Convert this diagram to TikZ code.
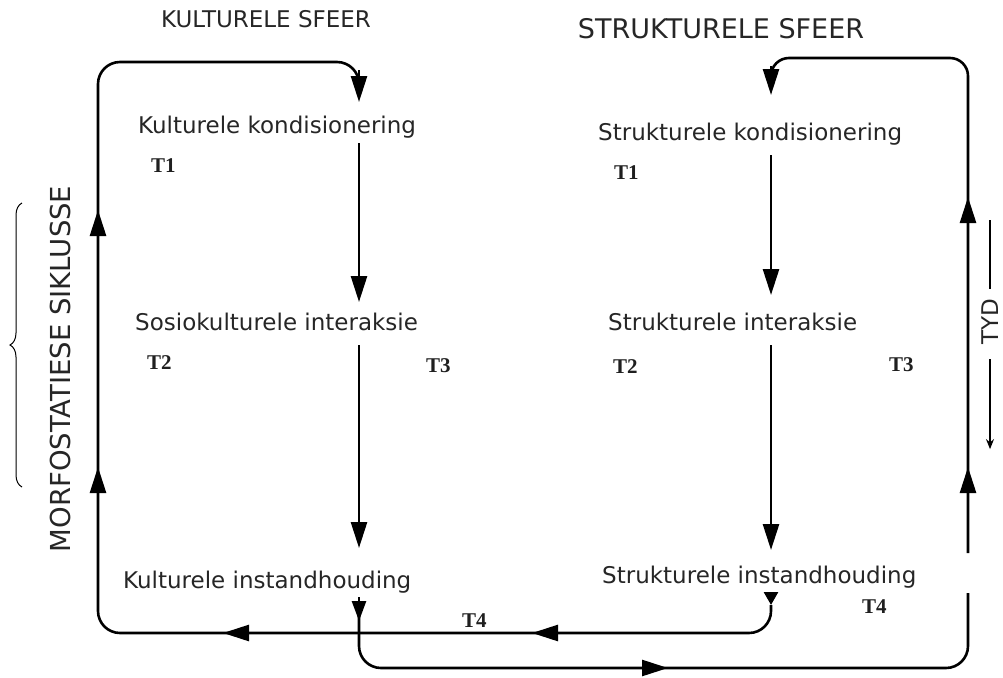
\documentclass[tikz,border=0pt]{standalone}
\usepackage{fontspec}
\setmainfont{DejaVu Sans}
\newfontfamily\tfont{Liberation Serif}
\usetikzlibrary{arrows.meta,calc,decorations.pathreplacing}
\begin{document}
\begin{tikzpicture}[x=1pt,y=-1pt,
  line/.style={line width=2.6pt, line join=round},
  arr/.style={line width=2.6pt, -{Triangle[width=16pt,length=26pt]}},
  smalltip/.style={line width=2.6pt, -{Triangle[width=14pt,length=13pt]}},
  midtip/.style={line width=2.6pt, -{Triangle[width=14pt,length=20pt]}},
  lbl/.style={inner sep=0pt, anchor=base west, text=black!85, font=\fontsize{23}{28}\selectfont},
  ttl/.style={inner sep=0pt, anchor=base, text=black!85},
  tlab/.style={inner sep=0pt, anchor=base west, text=black!88, font=\tfont\bfseries\fontsize{21}{25}\selectfont},
  thinline/.style={line width=1.4pt},
]
\useasboundingbox (0,0) rectangle (1003,677);

% column axes
\coordinate (cK) at (359,0);
\coordinate (cS) at (771,0);

% titles
\node[ttl, font=\fontsize{23}{28}\selectfont] (tK) at (266,28) {KULTURELE SFEER};
\node[ttl, font=\fontsize{27}{32}\selectfont] (tS) at (721,38) {STRUKTURELE SFEER};

% labels
\node[lbl] (kk) at (138,133) {Kulturele kondisionering};
\node[lbl] (ki) at (135,330) {Sosiokulturele interaksie};
\node[lbl] (kh) at (123,588) {Kulturele instandhouding};
\node[lbl] (sk) at (598,140) {Strukturele kondisionering};
\node[lbl] (si) at (608,330) {Strukturele interaksie};
\node[lbl] (sh) at (602,583) {Strukturele instandhouding};

% time labels
\node[tlab] (kt1) at (151,172) {T1};
\node[tlab] (st1) at (614,179) {T1};
\node[tlab] (kt2) at (147,369) {T2};
\node[tlab] (kt3) at (426,372) {T3};
\node[tlab] (st2) at (613,373) {T2};
\node[tlab] (st3) at (889,371) {T3};
\node[tlab] (kt4) at (462,627) {T4};
\node[tlab] (st4) at (862,613) {T4};

% column arrows
\draw[arr] ($(kk.base -| cK)+(0,10)$) -- ($(ki.base -| cK)+(0,-28)$);
\draw[arr] ($(ki.base -| cK)+(0,15)$) -- ($(kh.base -| cK)+(0,-40)$);
\draw[arr] ($(sk.base -| cS)+(0,15)$) -- ($(si.base -| cS)+(0,-35)$);
\draw[arr] ($(si.base -| cS)+(0,15)$) -- ($(sh.base -| cS)+(0,-33)$);

% cultural loop (from structural maintenance back to cultural conditioning)
\coordinate (Ls) at ($(sh.base -| cS)+(0,22)$);
\coordinate (Lb) at (98,633);
\coordinate (Lt) at (98,62);
\coordinate (Le) at ($(Lt -| cK)+(0,14)$);
\draw[line, rounded corners=22pt] (Ls) -- (Ls |- Lb) -- (Lb) -- (Lt) -- (Lt -| cK) -- (Le);
\draw[smalltip] ($(sh.base -| cS)+(0,10)$) -- (Ls);
\coordinate (La1) at (532,633);
\coordinate (La2) at (223,633);
\coordinate (La3) at (98,467);
\coordinate (La4) at (98,210);
\draw[arr] ($(La1)+(30,0)$) -- (La1);
\draw[arr] ($(La2)+(30,0)$) -- (La2);
\draw[arr] ($(La3)+(0,30)$) -- (La3);
\draw[arr] ($(La4)+(0,30)$) -- (La4);
\draw[arr] ($(Lt -| cK)+(0,8)$) -- ($(kk.base -| cK)+(0,-31)$);

% structural loop (from cultural maintenance back to structural conditioning)
\coordinate (Rs) at ($(kh.base -| cK)+(0,28)$);
\coordinate (Rb) at (968,668);
\coordinate (Rg1) at (968,593);
\coordinate (Rg2) at (968,553);
\coordinate (Rt) at (968,58);
\draw[line, rounded corners=22pt] (Rs) -- (Rs |- Rb) -- (Rb) -- (Rg1);
\draw[line, rounded corners=18pt] (Rg2) -- (Rt) -- (Rt -| cS) -- ($(Rt -| cS)+(0,14)$);
\draw[midtip] ($(kh.base -| cK)+(0,9)$) -- ($(kh.base -| cK)+(0,33)$);
\coordinate (Ra1) at (668,668);
\coordinate (Ra2) at (968,467);
\coordinate (Ra3) at (968,197);
\draw[arr] ($(Ra1)+(-30,0)$) -- (Ra1);
\draw[arr] ($(Ra2)+(0,30)$) -- (Ra2);
\draw[arr] ($(Ra3)+(0,30)$) -- (Ra3);
\draw[arr] ($(Rt -| cS)+(0,8)$) -- ($(sk.base -| cS)+(0,-45)$);

% morphostatic cycles
\node[inner sep=0pt, rotate=90, text=black!85, font=\fontsize{27.5}{32}\selectfont] (mc) at (60,369) {MORFOSTATIESE SIKLUSSE};
\draw[decorate, decoration={brace, amplitude=12pt}, line width=1pt] (22,487) -- (22,203);

% time
\node[inner sep=0pt, rotate=90, text=black!85, font=\fontsize{23}{28}\selectfont] (tyd) at (990,322) {TYD};
\draw[thinline] ($(tyd.east)+(0,-10)$) -- ($(tyd.east)+(0,-79)$);
\draw[thinline, -{Stealth[width=8pt,length=10pt]}] ($(tyd.west)+(0,14)$) -- ($(tyd.west)+(0,104)$);
\end{tikzpicture}
\end{document}
